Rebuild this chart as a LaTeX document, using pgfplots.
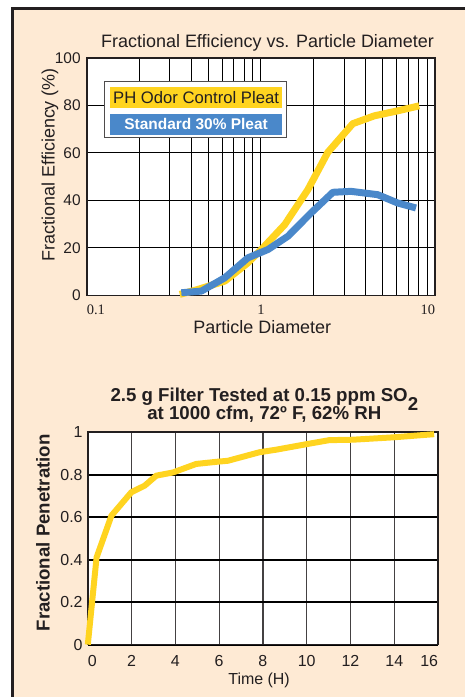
\documentclass[border=0pt]{standalone}
\usepackage{pgfplots}
\pgfplotsset{compat=1.18}
\usepackage{fontspec}
\setmainfont{Liberation Sans}
\newfontfamily\seriffont{Liberation Serif}
\definecolor{bg}{HTML}{FEEAD4}
\definecolor{ylw}{HTML}{FFD420}
\definecolor{blu}{HTML}{4A88CA}
\definecolor{ink}{HTML}{231F20}
\begin{document}
\begin{tikzpicture}[x=1pt,y=1pt]
\path[fill=white] (0,0) rectangle (466,698);
\fill[bg] (12.5,0) rectangle (466,689.7);
\draw[ink, line width=3pt] (12.5,0) -- (12.5,689.7) -- (466,689.7);

\begin{axis}[
  at={(87pt,402pt)}, anchor=south west, scale only axis, width=349pt, height=238pt,
  xmode=log, xmin=0.1, xmax=10, ymin=0, ymax=100,
  xtick={0.1,1,10}, xticklabels={\makebox[0pt][l]{0.1},1,\makebox[0pt][r]{10}},
  minor xtick={0.2,0.3,0.4,0.5,0.6,0.7,0.8,0.9,2,3,4,5,6,7,8,9},
  ytick={0,20,40,60,80,100}, yticklabels={0,20,40,60,80,100},
  xmajorgrids, xminorgrids, ymajorgrids,
  major grid style={black, line width=1pt},
  minor grid style={black, line width=1pt},
  major tick length=0pt, minor tick length=0pt,
  axis line style={ink, line width=1.5pt},
  axis background/.style={fill=white},
  clip=false,
  xticklabel style={font=\seriffont\fontsize{14.5}{14.5}\selectfont, inner sep=0pt, yshift=-9pt, text=ink},
  yticklabel style={font=\fontsize{15.5}{15.5}\selectfont, inner sep=0pt, xshift=-6pt, text=ink},
  title={Fractional Efficiency vs. Particle Diameter},
  title style={at={(0.519,1.0189)}, anchor=base, inner sep=0pt, font=\fontsize{18}{18}\selectfont, text=ink},
  xlabel={Particle Diameter},
  xlabel style={at={(0.504,-0.1597)}, anchor=base, inner sep=0pt, font=\fontsize{18}{18}\selectfont, text=ink},
  ylabel={Fractional Efficiency (\%)},
  ylabel style={at={(-0.106,0.55)}, anchor=center, inner sep=0pt, font=\fontsize{18}{18}\selectfont, text=ink},
]
\addplot[ylw, line width=7pt, line join=round] coordinates {
 (0.342,0.4) (0.43,2.4) (0.62,6.0) (0.842,13.7) (1.027,20) (1.37,29.8) (1.86,44.5)
 (2.42,60.2) (3.37,72.3) (4.48,75.6) (6.1,77.7) (8.11,79.8)};
\addplot[blu, line width=7pt, line join=round] coordinates {
 (0.349,1.1) (0.455,1.8) (0.62,7.4) (0.842,15.8) (1.097,19.3) (1.43,24.9) (1.94,34.7)
 (2.59,43.4) (3.29,43.8) (4.68,42.4) (6.1,38.9) (7.77,36.8)};
\end{axis}

\draw[ink!80, line width=0.8pt, fill=white] (105,616) rectangle (287,560);
\fill[ylw] (110,611) rectangle (283,590);
\fill[blu] (110,584) rectangle (283,563);
\node[font=\fontsize{16.7}{16.7}\selectfont, text=ink, inner sep=0pt] at (196.5,600.5) {PH Odor Control Pleat};
\node[font=\bfseries\fontsize{15.5}{15.5}\selectfont, text=white, inner sep=0pt] at (196.5,573.5) {Standard 30\% Pleat};

\begin{axis}[
  at={(88pt,52pt)}, anchor=south west, scale only axis, width=351pt, height=213pt,
  xmin=0, xmax=16, ymin=0, ymax=1,
  xtick={0,2,4,6,8,10,12,14,16}, xticklabels={\makebox[0pt][l]{0},2,4,6,8,10,12,14,\makebox[0pt][r]{16}},
  ytick={0,0.2,0.4,0.6,0.8,1}, yticklabels={0,0.2,0.4,0.6,0.8,1},
  xmajorgrids, ymajorgrids,
  x grid style={ink!85, line width=1.3pt},
  y grid style={black, line width=2pt},
  major tick length=0pt,
  axis line style={ink, line width=1.5pt},
  axis background/.style={fill=white},
  clip=false,
  xticklabel style={font=\fontsize{16}{16}\selectfont, inner sep=0pt, yshift=-11pt, text=ink},
  yticklabel style={font=\fontsize{16}{16}\selectfont, inner sep=0pt, xshift=-5pt, text=ink},
  title={2.5 g Filter Tested at 0.15 ppm SO\smash{\raisebox{-0.5em}{2}}\\at 1000 cfm, 72º F, 62\% RH},
  title style={at={(0.504,1.0154)}, anchor=south, align=center, inner sep=0pt, font=\bfseries\fontsize{18.7}{18.5}\selectfont, text=ink},
  xlabel={Time (H)},
  xlabel style={at={(0.489,-0.188)}, anchor=base, inner sep=0pt, font=\fontsize{16}{16}\selectfont, text=ink},
  ylabel={Fractional Penetration},
  ylabel style={at={(-0.128,0.526)}, anchor=center, inner sep=0pt, font=\bfseries\fontsize{18.7}{18.7}\selectfont, text=ink},
]
\addplot[ylw, line width=6pt, line join=round] coordinates {
 (0,0) (0.40,0.41) (1.08,0.607) (1.99,0.717) (2.6,0.748) (3.13,0.795) (3.89,0.81)
 (4.95,0.85) (5.87,0.86) (6.4,0.865) (7.84,0.905) (8.6,0.917) (10.04,0.944)
 (11.03,0.962) (12.1,0.964) (13.92,0.975) (15.82,0.99)};
\end{axis}
\end{tikzpicture}
\end{document}
